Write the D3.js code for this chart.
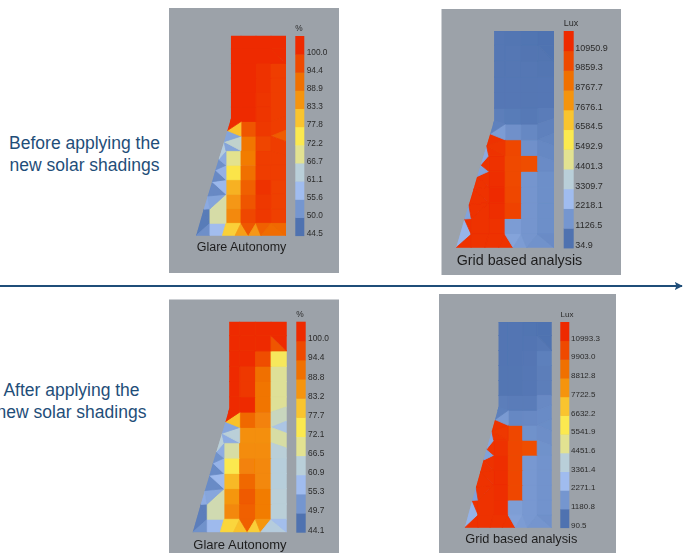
<!DOCTYPE html>
<html>
<head>
<meta charset="utf-8">
<script src="https://cdn.jsdelivr.net/npm/d3@7"></script>
<style>
html, body { margin: 0; padding: 0; background: #fff; }
svg { display: block; }
text { font-family: "Liberation Sans", Arial, sans-serif; }
</style>
</head>
<body>
<div id="chart"></div>
<script>
// legend colours, low to high
const palette = ['#4f72b0', '#7596cf', '#a0bcef', '#b9cfd9', '#e2e291', '#fbe94f', '#f9c42e', '#f59410', '#f07000', '#ef4a00', '#ee2c00'];

const glareBeforeTicks = [44.5, 50.0, 55.6, 61.1, 66.7, 72.2, 77.8, 83.3, 88.9, 94.4, 100.0];
const luxBeforeTicks = [34.9, 1126.5, 2218.1, 3309.7, 4401.3, 5492.9, 6584.5, 7676.1, 8767.7, 9859.3, 10950.9];
const glareAfterTicks = [44.1, 49.7, 55.3, 60.9, 66.5, 72.1, 77.7, 83.2, 88.8, 94.4, 100.0];
const luxAfterTicks = [90.5, 1180.8, 2271.1, 3361.4, 4451.6, 5541.9, 6632.2, 7722.5, 8812.8, 9903.0, 10993.3];

// floor plan mesh, in room units (u across, v up from the bottom wall)
const colEdges = [0, 1, 2, 3, 4];
const rowEdges = [0.85, 1.85, 2.85, 3.85, 4.85, 5.85, 6.85, 7.85, 8.85, 9.85, 10.85, 11.85, 12.85, 13.76];
const meshNodes = {
    A: [-2, 0], B: [-1.49, 1.82], C: [-1.22, 2.73], D: [-0.93, 3.72], E: [-0.71, 4.52], F: [-0.49, 5.26],
    G: [-0.13, 6.47], H: [0.09, 7.23], J: [0.33, 8.07], Top: [0.33, 13.76], TopR: [4, 13.76],
    M: [-1.07, 1.85], N: [-1.07, 0.85], P: [-1.07, 0], Q: [-0.24, 0], R: [0.6, 0], S: [1.5, 0], T: [2.33, 0], E4: [4, 0],
    K0: [0, 0.85], K1: [1, 0.85], K2: [2, 0.85], K3: [3, 0.85], K4: [4, 0.85],
    L2: [0, 2.85], L3: [0, 3.85], L4: [0, 4.85], L5: [0, 5.85],
    m5: [1, 5.85], m6: [1, 6.85], m7: [1, 7.85],
    a1: [3, 12.85], a2: [3, 11.85], a3: [4, 11.85], a4: [4, 12.85],
    b1: [3, 8.85], b2: [4, 8.85], b3: [4, 8.2], b4: [3, 7.85], b5: [4, 7.27], b6: [3, 6.85], b7: [4, 6.47],
    b8: [4, 5.5], b9: [3, 5.85], b10: [4, 4.85], b11: [3, 4.85]
};
const outline = ['A', 'B', 'C', 'D', 'E', 'F', 'G', 'H', 'J', 'Top', 'TopR', 'E4'];
const facets = [
    ['A', 'B', 'N'], ['A', 'N', 'P'], ['B', 'M', 'N'], ['P', 'N', 'K0', 'Q'], ['M', 'L2', 'K0', 'N'],
    ['B', 'C', 'M'], ['C', 'L2', 'M'], ['C', 'D', 'L2'], ['D', 'L3', 'L2'], ['D', 'E', 'L3'],
    ['E', 'L4', 'L3'], ['E', 'F', 'L4'], ['F', 'L5', 'L4'], ['F', 'G', 'L5'], ['G', 'm5', 'L5'],
    ['G', 'm6', 'm5'], ['G', 'H', 'm6'], ['H', 'm7', 'm6'], ['H', 'J', 'm7'],
    ['K0', 'K1', 'R', 'Q'], ['K1', 'S', 'R'], ['K1', 'K2', 'S'], ['K2', 'T', 'S'], ['K2', 'K3', 'T'],
    ['K3', 'E4', 'T'], ['K3', 'K4', 'E4'],
    ['a1', 'a2', 'a3'], ['a1', 'a3', 'a4'],
    ['b1', 'b2', 'b3', 'b4'], ['b4', 'b3', 'b5', 'b6'], ['b6', 'b5', 'b7'], ['b6', 'b7', 'b8', 'b9'], ['b9', 'b8', 'b10', 'b11']
];

// one row per rowEdges band, bottom to top; null = that cell is split into facets
const glareBeforeCells = [
    [85, 95, 98, 96.5], [83, 93, 98, 96.5], [80, 91, 99, 96.5], [73, 89, 97, 97], [67, 87, 97, null],
    [null, 88, 95.5, null], [null, 93, 97.5, null], [100, 100, 98.5, null], [100, 100, 98.5, 97],
    [100, 100, 99, 97], [100, 100, 99, 97], [100, 100, 100, null], [100, 100, 100, 100]
];
const glareBeforeFacets = [46, 49, 46, 56, 65, 53, 52, 48, 55, 48, 54, 49, 53, 60, 52, 62, 52, 78, 100,
    76, 82, 92.5, 83, 91, 89.5, 90, 100, 100, 97, 97, 92, 97, 97];

const luxBeforeCells = [
    [10800, 1300, 1100, 900], [10900, 10100, 1100, 900], [10950, 10000, 1100, 900], [10900, 9950, 1100, 900],
    [10800, 9900, 9750, null], [null, 10000, 950, null], [null, 950, 700, null], [400, 300, 250, null],
    [200, 200, 180, 200], [200, 200, 180, 200], [180, 180, 180, 150], [180, 180, 120, null], [180, 150, 100, 60]
];
const luxBeforeFacets = [2000, 10800, 10800, 10800, 10800, 1500, 10800, 10800, 10800, 10800, 10800, 1500, 10700, 1700, 10700, 10600, 10700, 1300, 500,
    10800, 10800, 1500, 1300, 1100, 1000, 800, 120, 60, 350, 500, 600, 700, 800];

const glareAfterCells = [
    [85, 91, 87, 61], [83, 92, 87, 61], [79, 90, 85, 60.5], [72, 86, 85, 60.5], [65, 84.5, 84.5, null],
    [null, 84, 84, null], [null, 90, 86, null], [100, 100, 88, null], [100, 98, 88, 66],
    [100, 98, 89, 66], [100, 100, 94, 71], [100, 100, 100, null], [100, 100, 100, 100]
];
const glareAfterFacets = [46, 49, 46, 55, 64, 53, 52, 48, 55, 48, 54, 49, 53, 61, 53, 61, 52, 78, 100,
    75, 78, 91, 76, 83, 60, 56, 93, 100, 66, 63, 58, 65, 61];

const luxAfterCells = [
    [10900, 1400, 1250, 1100], [10900, 10000, 1250, 1100], [10950, 10000, 1250, 1100], [10900, 10000, 1250, 1100],
    [10800, 10000, 9800, null], [null, 10000, 1050, null], [null, 750, 800, null], [450, 400, 400, null],
    [200, 200, 250, 450], [200, 200, 250, 450], [180, 180, 220, 500], [180, 180, 180, null], [180, 180, 150, 130]
];
const luxAfterFacets = [2000, 10800, 10800, 10800, 10800, 1500, 10800, 10800, 10800, 10800, 10800, 1500, 10700, 1700, 10700, 10600, 10700, 1300, 500,
    10800, 10800, 1500, 1350, 1250, 1150, 1000, 280, 130, 800, 850, 900, 950, 1050];

const panels = [
    {id: 'p1', box: [169, 8, 170, 265], plot: [226, 286, 235.7, 35.7], bar: [295.3, 304.3, 36, 235.7],
        labelX: 306.7, labelY: [233.3, 51.7], fs: 8.3, unit: '%', unitPos: [299, 31], ticks: glareBeforeTicks,
        cells: glareBeforeCells, facetValues: glareBeforeFacets, caption: 'Glare Autonomy', capX: 196.7, capY: 251, capFs: 12.5},
    {id: 'p2', box: [441.5, 9, 179.5, 266], plot: [488.7, 554, 247.7, 31], bar: [563.7, 573.7, 31, 248],
        labelX: 575.3, labelY: [244.3, 47.3], fs: 9, unit: 'Lux', unitPos: [571, 26], ticks: luxBeforeTicks,
        cells: luxBeforeCells, facetValues: luxBeforeFacets, caption: 'Grid based analysis', capX: 456.7, capY: 265, capFs: 14.3},
    {id: 'p3', box: [169, 299.5, 170, 253.5], plot: [224, 286.7, 532.3, 321.7], bar: [296.3, 305.7, 321.7, 532.3],
        labelX: 308, labelY: [529.3, 338], fs: 8.4, unit: '%', unitPos: [300, 317], ticks: glareAfterTicks,
        cells: glareAfterCells, facetValues: glareAfterFacets, caption: 'Glare Autonomy', capX: 193.3, capY: 548.5, capFs: 13},
    {id: 'p4', box: [439, 294, 177, 259], plot: [493.7, 551.7, 527.7, 322], bar: [560.3, 569.3, 322, 527.7],
        labelX: 571, labelY: [524.7, 337.7], fs: 8, unit: 'Lux', unitPos: [567, 317], ticks: luxAfterTicks,
        cells: luxAfterCells, facetValues: luxAfterFacets, caption: 'Grid based analysis', capX: 465.3, capY: 542.5, capFs: 12.75}
];

const svg = d3.select('#chart').append('svg')
    .attr('width', 690)
    .attr('height', 556);

const defs = svg.append('defs');
defs.append('filter').attr('id', 'soft')
    .attr('x', '-5%').attr('y', '-5%').attr('width', '110%').attr('height', '110%')
    .append('feGaussianBlur').attr('stdDeviation', 0.5);
const arrow = defs.append('marker').attr('id', 'head')
    .attr('viewBox', '0 0 10 10').attr('refX', 9).attr('refY', 5)
    .attr('markerWidth', 8).attr('markerHeight', 8).attr('markerUnits', 'userSpaceOnUse')
    .attr('orient', 'auto');
arrow.append('path').attr('d', 'M0,0 L10,5 L0,10 L2,5 z').attr('fill', '#1f4e79');

panels.forEach(drawPanel);

function drawPanel(p){
    const g = svg.append('g').attr('filter', 'url(#soft)');
    g.append('rect')
        .attr('x', p.box[0]).attr('y', p.box[1])
        .attr('width', p.box[2]).attr('height', p.box[3])
        .attr('fill', '#9ca2a9');

    const x = d3.scaleLinear().domain([0, 4]).range([p.plot[0], p.plot[1]]);
    const y = d3.scaleLinear().domain([0, 13.76]).range([p.plot[2], p.plot[3]]);
    const color = d3.scaleLinear().domain(p.ticks).range(palette).clamp(true);
    const line = d3.line().x(function(d){return x(d[0]);}).y(function(d){return y(d[1]);});
    const toPath = function(names){
        return line(names.map(function(n){return meshNodes[n];})) + 'Z';
    };

    defs.append('clipPath').attr('id', 'clip-' + p.id)
        .append('path').attr('d', toPath(outline));

    const mesh = g.append('g').attr('clip-path', 'url(#clip-' + p.id + ')');

    // regular grid cells
    const cellData = [];
    p.cells.forEach(function(row, r){
        row.forEach(function(value, c){
            if(value !== null){
                cellData.push({r: r, c: c, value: value});
            }
        });
    });
    mesh.selectAll('rect.cell')
        .data(cellData)
        .enter().append('rect')
        .attr('class', 'cell')
        .attr('x', function(d){return x(colEdges[d.c]);})
        .attr('y', function(d){return y(rowEdges[d.r + 1]);})
        .attr('width', function(d){return x(colEdges[d.c + 1]) - x(colEdges[d.c]);})
        .attr('height', function(d){return y(rowEdges[d.r]) - y(rowEdges[d.r + 1]);})
        .attr('fill', function(d){return color(d.value);})
        .attr('stroke', function(d){return color(d.value);})
        .attr('stroke-width', 0.8);

    // triangles along the slanted wall and the bottom row
    mesh.selectAll('path.facet')
        .data(facets)
        .enter().append('path')
        .attr('class', 'facet')
        .attr('d', toPath)
        .attr('fill', function(d, i){return color(p.facetValues[i]);})
        .attr('stroke', function(d, i){return color(p.facetValues[i]);})
        .attr('stroke-width', 0.8);

    // legend
    const bandY = d3.scaleBand().domain(d3.range(palette.length)).range([p.bar[3], p.bar[2]]);
    g.selectAll('rect.swatch')
        .data(palette)
        .enter().append('rect')
        .attr('class', 'swatch')
        .attr('x', p.bar[0])
        .attr('y', function(d, i){return bandY(i);})
        .attr('width', p.bar[1] - p.bar[0])
        .attr('height', bandY.bandwidth() + 0.4)
        .attr('fill', function(d){return d;});

    const tickY = d3.scaleLinear()
        .domain([p.ticks[0], p.ticks[p.ticks.length - 1]])
        .range(p.labelY);
    const axis = d3.axisRight(tickY)
        .tickValues(p.ticks)
        .tickSize(0)
        .tickPadding(0)
        .tickFormat(d3.format('.1f'));
    const axisG = g.append('g')
        .attr('transform', 'translate(' + p.labelX + ',0)')
        .call(axis);
    axisG.select('.domain').remove();
    axisG.selectAll('text')
        .attr('font-family', '"Liberation Sans", Arial, sans-serif')
        .attr('font-size', p.fs)
        .attr('fill', '#2b2b2b');

    g.append('text')
        .attr('x', p.unitPos[0]).attr('y', p.unitPos[1])
        .attr('text-anchor', 'middle')
        .attr('font-size', p.fs)
        .attr('fill', '#2b2b2b')
        .text(p.unit);

    g.append('text')
        .attr('x', p.capX).attr('y', p.capY)
        .attr('font-size', p.capFs)
        .attr('fill', '#1e1e1e')
        .text(p.caption);
}

// left side labels
const sideLabels = [
    {text: 'Before applying the', x: 84.5, y: 149},
    {text: 'new solar shadings', x: 84.5, y: 171},
    {text: 'After applying the', x: 71.5, y: 396},
    {text: 'new solar shadings', x: 71.5, y: 418}
];
svg.selectAll('text.side')
    .data(sideLabels)
    .enter().append('text')
    .attr('class', 'side')
    .attr('x', function(d){return d.x;})
    .attr('y', function(d){return d.y;})
    .attr('text-anchor', 'middle')
    .attr('font-size', 17.5)
    .attr('fill', '#1f4e79')
    .text(function(d){return d.text;});

svg.append('line')
    .attr('x1', 0).attr('y1', 286)
    .attr('x2', 682).attr('y2', 286)
    .attr('stroke', '#1f4e79')
    .attr('stroke-width', 1.8)
    .attr('marker-end', 'url(#head)');
</script>
</body>
</html>
